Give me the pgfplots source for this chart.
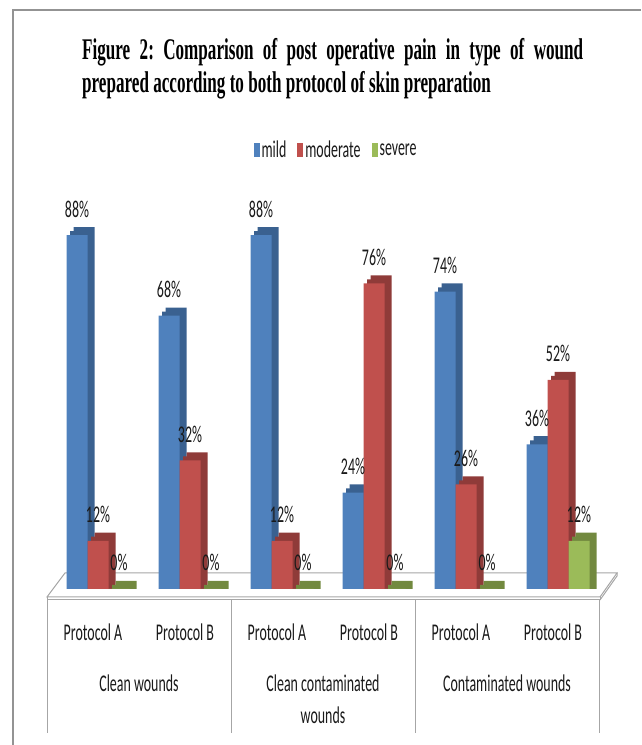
\documentclass[border=0pt]{standalone}
\usepackage{pgfplots}
\usepackage{pgfplotstable}
\pgfplotsset{compat=1.18}
\usepackage{fontspec}
\setmainfont{Carlito}[FakeStretch=0.58]
\newfontfamily\titlefont{Liberation Serif}[FakeStretch=0.57]

\definecolor{bfront}{HTML}{4F81BD}
\definecolor{bdark}{HTML}{3A6190}
\definecolor{rfront}{HTML}{C0504D}
\definecolor{rdark}{HTML}{8F3B39}
\definecolor{gfront}{HTML}{9BBB59}
\definecolor{gdark}{HTML}{72893F}
\definecolor{linegray}{HTML}{A6A6A6}
\definecolor{txt}{HTML}{1A1A1A}

\pgfplotstableread{
x mild moderate severe
0 88 12 0
1 68 32 0
2 88 12 0
3 24 76 0
4 74 26 0
5 36 52 12
}\data

\begin{document}
\begin{tikzpicture}
\useasboundingbox (0,0) rectangle (641pt,745pt);
% outer frame
\draw[gray!85, line width=1.5pt] (13pt,0pt) -- (13pt,735pt) -- (641pt,735pt);
% title
\node[anchor=base west, inner sep=0pt] at (82pt,685pt)
 {\parbox[t]{501pt}{\titlefont\bfseries\fontsize{30}{33}\selectfont\frenchspacing\noindent
 Figure 2: Comparison of post operative pain in type of wound\linebreak
 prepared according to both protocol of  skin preparation}};
% floor
\fill[white] (47pt,148pt) -- (600pt,148pt) -- (617pt,172pt) -- (65pt,172pt) -- cycle;
\draw[linegray, line width=1pt] (47pt,148pt) -- (600pt,148pt) -- (617pt,172pt) -- (65pt,172pt) -- cycle;
\draw[linegray, line width=1pt] (47pt,148pt) -- (47pt,145pt) -- (600pt,145pt) -- (600pt,148pt);
\draw[linegray, line width=1pt] (600pt,145pt) -- (617pt,169pt) -- (617pt,172pt);
% table lines
\foreach \xx in {47,231,415,599} {\draw[linegray, line width=1pt] (\xx pt,145pt) -- (\xx pt,12pt);}
% group labels
\begin{scope}[font=\fontsize{24}{24}\selectfont, text=txt]
\node[anchor=base] at (139pt,53pt) {Clean wounds};
\node[anchor=base] at (323pt,53pt) {Clean contaminated};
\node[anchor=base] at (323pt,21pt) {wounds};
\node[anchor=base] at (507pt,53pt) {Contaminated wounds};
\end{scope}
\begin{axis}[
  at={(47pt,156pt)}, anchor=south west,
  scale only axis, width=552pt, height=402pt,
  xmin=-0.5, xmax=5.5, ymin=0, ymax=100,
  clip=false,
  axis lines=left,
  axis line style={draw=none},
  ytick=\empty,
  xtick={0,1,2,3,4,5},
  xticklabels={Protocol A,Protocol B,Protocol A,Protocol B,Protocol A,Protocol B},
  major tick length=0pt,
  xticklabel style={anchor=base, yshift=-51pt, font=\fontsize{24}{24}\selectfont, text=txt},
  legend columns=3,
  legend style={at={(0.5236,1.092)}, anchor=center, draw=none, fill=none,
    font=\fontsize{24}{24}\selectfont, text=txt,
    /tikz/every even column/.append style={column sep=9pt}},
  legend image code/.code={\fill[#1,draw=none] (0pt,-7pt) rectangle (6pt,7pt);},
  /pgf/number format/assume math mode=true,
  nodes near coords style={anchor=base, yshift=18pt, font=\fontsize{24}{24}\selectfont, text=txt},
  dark/.style={ybar, bar width=21pt, draw=none, forget plot},
]
% mild
\addplot[dark, bar shift=-16pt, fill=bdark, xshift=7pt] table[x=x,y expr=\thisrow{mild}+2]{\data};
\addplot[dark, bar shift=-16pt, fill=bdark, xshift=3.5pt] table[x=x,y expr=\thisrow{mild}+1]{\data};
\addplot[ybar, bar width=21pt, bar shift=-16pt, fill=bfront, draw=none,
  nodes near coords={\pgfmathprintnumber{\pgfplotspointmeta}\%},
  every node near coord/.append style={xshift=-16pt}] table[x=x,y=mild]{\data};
\addlegendentry{mild}
% moderate
\addplot[dark, bar shift=5pt, fill=rdark, xshift=7pt] table[x=x,y expr=\thisrow{moderate}+2]{\data};
\addplot[dark, bar shift=5pt, fill=rdark, xshift=3.5pt] table[x=x,y expr=\thisrow{moderate}+1]{\data};
\addplot[ybar, bar width=21pt, bar shift=5pt, fill=rfront, draw=none,
  nodes near coords={\pgfmathprintnumber{\pgfplotspointmeta}\%},
  every node near coord/.append style={xshift=5pt}] table[x=x,y=moderate]{\data};
\addlegendentry{moderate}
% severe
\addplot[dark, bar shift=26pt, fill=gdark, xshift=7pt] table[x=x,y expr=\thisrow{severe}+2]{\data};
\addplot[dark, bar shift=26pt, fill=gdark, xshift=3.5pt] table[x=x,y expr=\thisrow{severe}+1]{\data};
\addplot[ybar, bar width=21pt, bar shift=26pt, fill=gfront, draw=none,
  nodes near coords={\pgfmathprintnumber{\pgfplotspointmeta}\%},
  every node near coord/.append style={xshift=26pt}] table[x=x,y=severe]{\data};
\addlegendentry{severe}
\end{axis}
\end{tikzpicture}
\end{document}
